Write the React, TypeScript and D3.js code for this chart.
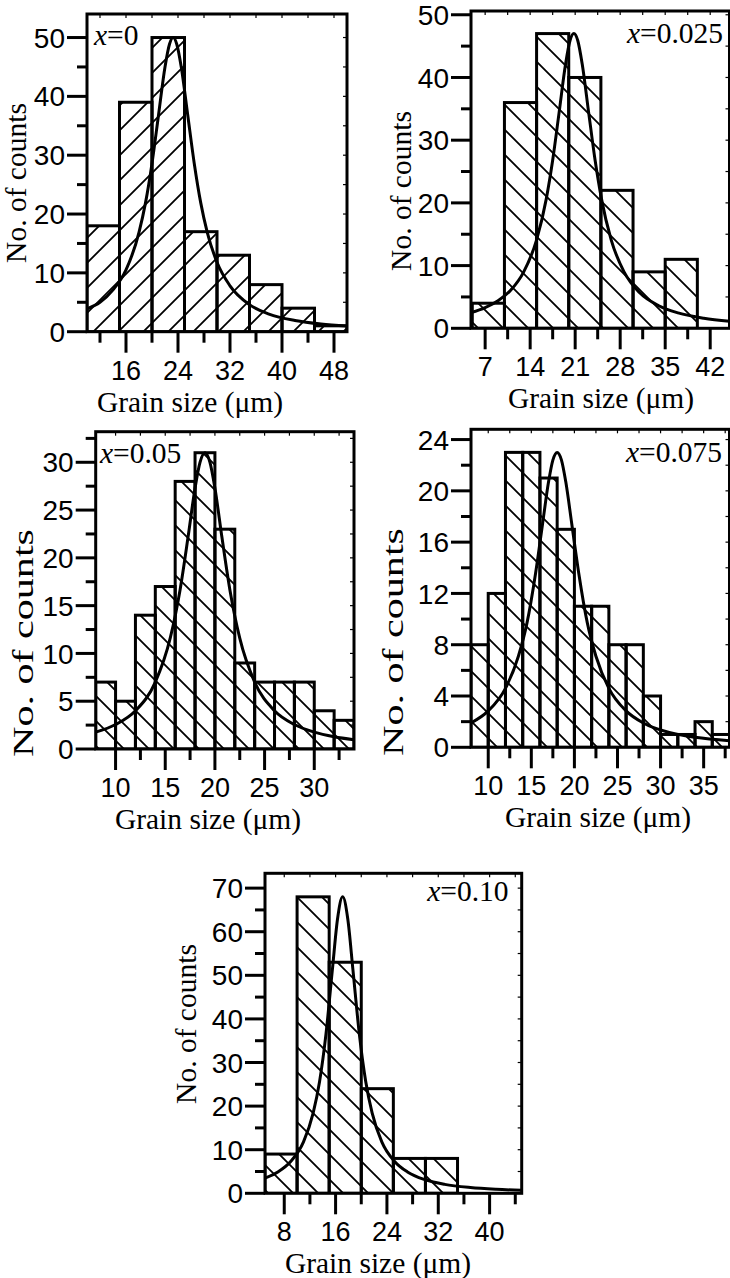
import React from 'react';
import * as d3 from 'd3';

// ---------- Panel 1 : x = 0 ----------
const p1Bins = [10, 15, 20, 25, 30, 35, 40, 45, 50];
const p1Counts = [18, 39, 50, 17, 13, 8, 4, 1];
const p1FitX = [10, 12, 14, 16, 18, 19, 20, 21, 22, 22.7, 23.25, 23.8, 24.5, 25.5, 26.5, 27.5, 28.5, 30, 32, 35, 38, 42, 46, 50];
const p1FitY = [3.9, 5.0, 7.1, 10.5, 16.9, 21.9, 28.6, 36.8, 45.0, 48.9, 50, 48.9, 45.0, 36.8, 28.6, 21.9, 16.9, 11.8, 7.8, 4.6, 3.0, 1.9, 1.3, 0.96];
const p1XTicks = [16, 24, 32, 40, 48];
const p1XMinor = [12, 20, 28, 36, 44];
const p1YTicks = [0, 10, 20, 30, 40, 50];
const p1YMinor = [5, 15, 25, 35, 45];
const p1Comp = '0';

// ---------- Panel 2 : x = 0.025 ----------
const p2Bins = [5, 10, 15, 20, 25, 30, 35, 40];
const p2Counts = [4, 36, 47, 40, 22, 9, 11];
const p2FitX = [4.8, 7, 9, 11, 13, 15, 16.5, 17.5, 18.5, 19.5, 20.2, 20.8, 21.4, 22.1, 23.1, 24.1, 25.1, 26.6, 28.6, 31, 34, 37, 41, 45];
const p2FitY = [2.5, 3.3, 4.4, 6.1, 9.0, 14.1, 20.6, 26.8, 34.4, 42.1, 45.9, 47, 45.9, 42.1, 34.4, 26.8, 20.6, 14.1, 9.0, 5.7, 3.6, 2.45, 1.6, 1.13];
const p2XTicks = [7, 14, 21, 28, 35, 42];
const p2XMinor = [10.5, 17.5, 24.5, 31.5, 38.5];
const p2YTicks = [0, 10, 20, 30, 40, 50];
const p2YMinor = [5, 15, 25, 35, 45];
const p2Comp = '0.025';

// ---------- Panel 3 : x = 0.05 ----------
const p3Bins = [8, 10, 12, 14, 16, 18, 20, 22, 24, 26, 28, 30, 32, 34];
const p3Counts = [7, 5, 14, 17, 28, 31, 23, 9, 7, 7, 7, 4, 3];
const p3FitX = [8, 10, 12, 14, 15.5, 16.5, 17.3, 18, 18.5, 19, 19.5, 20, 20.7, 21.5, 22.5, 24, 26, 28, 30, 32, 34];
const p3FitY = [1.76, 2.56, 4.0, 7.0, 11.6, 16.7, 22.2, 27.3, 30.0, 31, 30.0, 27.3, 22.2, 16.7, 11.6, 7.0, 4.0, 2.56, 1.76, 1.28, 0.97];
const p3XTicks = [10, 15, 20, 25, 30];
const p3XMinor = [12.5, 17.5, 22.5, 27.5, 32.5];
const p3YTicks = [0, 5, 10, 15, 20, 25, 30];
const p3YMinor = [2.5, 7.5, 12.5, 17.5, 22.5, 27.5, 32.5];
const p3Comp = '0.05';

// ---------- Panel 4 : x = 0.075 ----------
const p4Bins = [8, 10, 12, 14, 16, 18, 20, 22, 24, 26, 28, 30, 32, 34, 36, 38];
const p4Counts = [8, 12, 23, 23, 21, 17, 11, 11, 8, 8, 4, 1, 1, 2, 1];
const p4FitX = [8, 10, 12, 13.5, 14.5, 15.5, 16.3, 17, 17.5, 18, 18.5, 19, 19.7, 20.5, 21.5, 22.5, 24, 26, 28, 31, 34, 38];
const p4FitY = [1.9, 2.84, 4.6, 7.1, 9.7, 13.6, 17.4, 20.7, 22.4, 23, 22.4, 20.7, 17.4, 13.6, 9.7, 7.1, 4.6, 2.84, 1.9, 1.16, 0.78, 0.51];
const p4XTicks = [10, 15, 20, 25, 30, 35];
const p4XMinor = [12.5, 17.5, 22.5, 27.5, 32.5, 37.5];
const p4YTicks = [0, 4, 8, 12, 16, 20, 24];
const p4YMinor = [2, 6, 10, 14, 18, 22];
const p4Comp = '0.075';

// ---------- Panel 5 : x = 0.10 ----------
const p5Bins = [5, 10, 15, 20, 25, 30, 35];
const p5Counts = [9, 68, 53, 24, 8, 8];
const p5FitX = [5, 7, 9, 11, 12.5, 13.5, 14.5, 15.5, 16.3, 17.1, 17.9, 18.7, 19.7, 20.7, 21.7, 23.2, 25.2, 27.2, 30, 33, 37, 41, 45];
const p5FitY = [3.5, 4.9, 7.3, 11.8, 18.4, 25.6, 36.5, 51.3, 62.9, 68, 62.9, 51.3, 36.5, 25.6, 18.4, 11.8, 7.3, 4.9, 3.1, 2.05, 1.32, 0.92, 0.68];
const p5XTicks = [8, 16, 24, 32, 40];
const p5XMinor = [12, 20, 28, 36, 44];
const p5YTicks = [0, 10, 20, 30, 40, 50, 60, 70];
const p5YMinor = [5, 15, 25, 35, 45, 55, 65];
const p5Comp = '0.10';

const xTitle = 'Grain size (\u03bcm)';
const yTitle = 'No. of counts';

const SANS = '"Liberation Sans", Arial, sans-serif';
const SERIF = '"Liberation Serif", "Times New Roman", serif';

const panels = [
  {
    data: { bins: p1Bins, counts: p1Counts, fitX: p1FitX, fitY: p1FitY, xTicks: p1XTicks, xMinor: p1XMinor, yTicks: p1YTicks, yMinor: p1YMinor, comp: p1Comp },
    lay: { left: 87, right: 347, top: 14, bottom: 331.7, xDom: [10, 50], yDom: [0, 54], hatch: 'hF', compX: 94, compY: 44.5, compAnchor: 'start', yTX: 26, yTY: 183, yTLen: 0, xTX: 190 },
  },
  {
    data: { bins: p2Bins, counts: p2Counts, fitX: p2FitX, fitY: p2FitY, xTicks: p2XTicks, xMinor: p2XMinor, yTicks: p2YTicks, yMinor: p2YMinor, comp: p2Comp },
    lay: { left: 471, right: 729.5, top: 11, bottom: 328.3, xDom: [4.8, 45], yDom: [0, 50.6], hatch: 'hB', compX: 723, compY: 43, compAnchor: 'end', yTX: 411, yTY: 191, yTLen: 0, xTX: 601 },
  },
  {
    data: { bins: p3Bins, counts: p3Counts, fitX: p3FitX, fitY: p3FitY, xTicks: p3XTicks, xMinor: p3XMinor, yTicks: p3YTicks, yMinor: p3YMinor, comp: p3Comp },
    lay: { left: 95.7, right: 354, top: 431.7, bottom: 749, xDom: [8, 34], yDom: [0, 33.2], hatch: 'hB', compX: 100, compY: 463, compAnchor: 'start', yTX: 33, yTY: 643, yTLen: 228, xTX: 208 },
  },
  {
    data: { bins: p4Bins, counts: p4Counts, fitX: p4FitX, fitY: p4FitY, xTicks: p4XTicks, xMinor: p4XMinor, yTicks: p4YTicks, yMinor: p4YMinor, comp: p4Comp },
    lay: { left: 471, right: 729.5, top: 429.3, bottom: 747.3, xDom: [8, 38], yDom: [0, 24.8], hatch: 'hB', compX: 722, compY: 461.5, compAnchor: 'end', yTX: 403, yTY: 642, yTLen: 228, xTX: 598 },
  },
  {
    data: { bins: p5Bins, counts: p5Counts, fitX: p5FitX, fitY: p5FitY, xTicks: p5XTicks, xMinor: p5XMinor, yTicks: p5YTicks, yMinor: p5YMinor, comp: p5Comp },
    lay: { left: 265, right: 521.7, top: 873.3, bottom: 1193.3, xDom: [5, 45], yDom: [0, 73.4], hatch: 'hB', compX: 508.5, compY: 901, compAnchor: 'end', yTX: 196, yTY: 1024, yTLen: 0, xTX: 378 },
  },
];

function Panel({ data, lay, idx }: any) {
  const x = d3.scaleLinear().domain(lay.xDom).range([lay.left, lay.right]);
  const y = d3.scaleLinear().domain(lay.yDom).range([lay.bottom, lay.top]);
  const pts: [number, number][] = data.fitX.map((v: number, i: number) => [v, data.fitY[i]]);
  const line = d3
    .line<[number, number]>()
    .x((d) => x(d[0]))
    .y((d) => y(d[1]))
    .curve(d3.curveMonotoneX);
  const clipId = `clip${idx}`;
  const w = lay.right - lay.left;
  const h = lay.bottom - lay.top;
  const y0 = y(0);
  return (
    <g>
      <defs>
        <clipPath id={clipId}>
          <rect x={lay.left} y={lay.top} width={w} height={h} />
        </clipPath>
      </defs>
      {/* bars */}
      <g clipPath={`url(#${clipId})`}>
        {data.counts.map((c: number, i: number) => {
          const x0 = x(data.bins[i]);
          const x1 = x(data.bins[i + 1]);
          return (
            <rect key={'f' + i} x={x0} y={y(c)} width={x1 - x0} height={y0 - y(c)} fill={`url(#${lay.hatch})`} stroke="none" />
          );
        })}
        {data.counts.map((c: number, i: number) => {
          const x0 = x(data.bins[i]);
          const x1 = x(data.bins[i + 1]);
          return (
            <rect key={'o' + i} x={x0} y={y(c)} width={x1 - x0} height={y0 - y(c)} fill="none" stroke="#000" strokeWidth={3} />
          );
        })}
        <path d={line(pts) || ''} fill="none" stroke="#000" strokeWidth={3} />
      </g>
      {/* frame */}
      <rect x={lay.left} y={lay.top} width={w} height={h} fill="none" stroke="#000" strokeWidth={3} />
      {/* left axis ticks */}
      {data.yTicks.map((v: number) => (
        <g key={'yt' + v}>
          <line x1={lay.left - 20} x2={lay.left} y1={y(v)} y2={y(v)} stroke="#000" strokeWidth={3} />
          <line x1={lay.right - 4} x2={lay.right} y1={y(v)} y2={y(v)} stroke="#000" strokeWidth={1.2} />
          <text x={lay.left - 22} y={y(v)} dy="0.36em" textAnchor="end" fontFamily={SANS} fontSize={28}>
            {v}
          </text>
        </g>
      ))}
      {data.yMinor.map((v: number) => (
        <g key={'ym' + v}>
          <line x1={lay.left - 10} x2={lay.left} y1={y(v)} y2={y(v)} stroke="#000" strokeWidth={3} />
          <line x1={lay.right - 4} x2={lay.right} y1={y(v)} y2={y(v)} stroke="#000" strokeWidth={1.2} />
        </g>
      ))}
      {/* bottom axis ticks */}
      {data.xTicks.map((v: number) => (
        <g key={'xt' + v}>
          <line x1={x(v)} x2={x(v)} y1={lay.bottom} y2={lay.bottom + 21} stroke="#000" strokeWidth={3} />
          <line x1={x(v)} x2={x(v)} y1={lay.top} y2={lay.top + 4} stroke="#000" strokeWidth={1.2} />
          <text x={x(v)} y={lay.bottom + 48} textAnchor="middle" fontFamily={SANS} fontSize={27}>
            {v}
          </text>
        </g>
      ))}
      {data.xMinor.map((v: number) => (
        <g key={'xm' + v}>
          <line x1={x(v)} x2={x(v)} y1={lay.bottom} y2={lay.bottom + 11} stroke="#000" strokeWidth={3} />
          <line x1={x(v)} x2={x(v)} y1={lay.top} y2={lay.top + 4} stroke="#000" strokeWidth={1.2} />
        </g>
      ))}
      {/* composition label */}
      <text x={lay.compX} y={lay.compY} textAnchor={lay.compAnchor} fontFamily={SERIF} fontSize={29.5}>
        <tspan fontStyle="italic">x</tspan>
        <tspan>={data.comp}</tspan>
      </text>
      {/* axis titles */}
      <text x={lay.xTX} y={lay.bottom + 80} textAnchor="middle" fontFamily={SERIF} fontSize={29.5}>
        {xTitle}
      </text>
      <text
        transform={`translate(${lay.yTX},${lay.yTY}) rotate(-90)`}
        textAnchor="middle"
        fontFamily={SERIF}
        fontSize={29.5}
        {...(lay.yTLen ? { textLength: lay.yTLen, lengthAdjust: 'spacingAndGlyphs' } : {})}
      >
        {yTitle}
      </text>
    </g>
  );
}

export default function App() {
  const s = 25;
  return (
    <svg width={730} height={1278} style={{ position: 'absolute', left: 0, top: 0, background: '#fff' }}>
      <defs>
        <pattern id="hF" patternUnits="userSpaceOnUse" width={s} height={s}>
          <path d={`M0,${s} L${s},0 M-5,5 L5,-5 M${s - 5},${s + 5} L${s + 5},${s - 5}`} stroke="#000" strokeWidth={1.8} />
        </pattern>
        <pattern id="hB" patternUnits="userSpaceOnUse" width={s} height={s}>
          <path d={`M0,0 L${s},${s} M-5,${s - 5} L5,${s + 5} M${s - 5},-5 L${s + 5},5`} stroke="#000" strokeWidth={1.8} />
        </pattern>
      </defs>
      <rect x={0} y={0} width={730} height={1278} fill="#fff" />
      {panels.map((p, i) => (
        <Panel key={i} idx={i} data={p.data} lay={p.lay} />
      ))}
    </svg>
  );
}
